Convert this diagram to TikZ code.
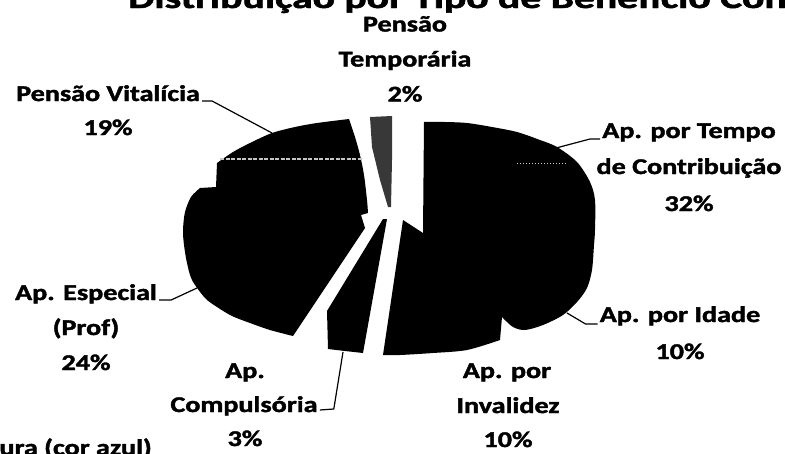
\documentclass[tikz,border=0pt]{standalone}
\usepackage{fontspec}
\setmainfont[BoldFeatures={FakeBold=1.6}]{Carlito}
\usetikzlibrary{calc}

\begin{document}
\begin{tikzpicture}[x=1pt, y=-1pt]
            \tikzstyle{slice} = [fill=black, draw=none]
            \tikzstyle{speckled} = [fill=black!78, draw=none]
            \tikzstyle{lbl} = [font=\fontsize{22.5}{35}\selectfont\bfseries, inner sep=0pt, anchor=base, xscale=1.25]
            \tikzstyle{heading} = [font=\fontsize{30}{36}\selectfont\bfseries, inner sep=0pt, anchor=base west, xscale=1.385]
            \tikzstyle{leader} = [draw=black, line width=1.2pt]

            \useasboundingbox (0, 0) rectangle (785, 453);
            \clip (0, 0) rectangle (785, 453);

            % pie, left part (Pensao Vitalicia + Ap. Especial)
            \fill[slice] (217, 163) -- plot[smooth] coordinates {(217, 163) (233, 152) (250, 143) (272, 133) (295, 127) (317, 123) (349, 119)}
                -- plot[smooth] coordinates {(349, 119) (355, 137) (360, 155) (364, 175) (367, 200) (368, 213)}
                -- (361, 215) -- (365, 228) -- (293, 336)
                -- plot[smooth] coordinates {(293, 336) (270, 330) (250, 323) (232, 316) (217, 307) (205, 298) (192, 280) (187, 263) (184, 245) (183, 230) (185, 212) (191, 197) (200, 188)}
                -- (216, 187) -- cycle;
            \draw[gray!45, line width=2.5pt, dash pattern=on 4pt off 1.5pt] (220, 159) -- (362, 159);

            % Pensao Temporaria
            \fill[speckled] (370, 117) -- (392, 116) -- (392, 160) -- (391, 207) -- (388, 207) -- (380, 180) -- (372, 147) -- cycle;

            % Ap. Compulsoria
            \fill[slice] (383, 219) -- (387, 219) -- (363, 353) -- (345, 351) -- (328, 349) -- (327, 311) -- cycle;

            % pie, right part (Tempo + Idade + Invalidez)
            \fill[slice] (424, 122) -- plot[smooth] coordinates {(424, 122) (445, 122) (467, 123) (492, 127) (517, 132) (540, 140) (557, 147) (577, 162) (590, 182) (595, 200) (595, 230) (594, 245) (592, 270) (587, 288) (577, 302) (563, 315) (543, 325) (525, 330) (513, 327) (502, 317)}
                -- (500, 340)
                -- plot[smooth] coordinates {(500, 340) (467, 350) (433, 353) (400, 355) (383, 355)}
                -- (403, 220) -- (423, 233) -- cycle;
            \draw[gray!40, line width=1pt, dotted] (517, 163) -- (567, 163);

            % title (cut by the page)
            \node[heading] (title) at (128, 8) {Distribuição por Tipo de Benefício Con};

            % labels
            \node[lbl] (tempA) at (405, 31.5) {Pensão};
            \node[lbl] (tempB) at (405, 66.5) {Temporária};
            \node[lbl] (tempC) at (405, 101.5) {2\%};

            \node[lbl] (vitA) at (108, 101) {Pensão Vitalícia};
            \node[lbl] (vitB) at (108, 135) {19\%};

            \node[lbl] (tcA) at (689, 138) {Ap. por Tempo};
            \node[lbl] (tcB) at (689, 174) {de Contribuição};
            \node[lbl] (tcC) at (689, 211) {32\%};

            \node[lbl] (idA) at (680, 322) {Ap. por Idade};
            \node[lbl] (idB) at (680, 359) {10\%};

            \node[lbl] (invA) at (507, 378) {Ap. por};
            \node[lbl] (invB) at (508, 413) {Invalidez};
            \node[lbl] (invC) at (508, 447) {10\%};

            \node[lbl] (espA) at (86, 300) {Ap. Especial};
            \node[lbl] (espB) at (86, 335) {(Prof)};
            \node[lbl] (espC) at (86, 370) {24\%};

            \node[lbl] (cmpA) at (245, 378) {Ap.};
            \node[lbl] (cmpB) at (244, 412) {Compulsória};
            \node[lbl] (cmpC) at (245, 446) {3\%};

            \node[lbl, anchor=base east] (azul) at (152, 455) {tura (cor azul)};

            % leader lines
            \coordinate (vitTip) at (272, 133);
            \coordinate (tcTip) at (556, 148);
            \coordinate (idTip) at (567, 313);
            \coordinate (espTip) at (197, 288);
            \coordinate (cmpTip) at (343, 352);
            \draw[leader] ($(vitA.base east) + (2, 0)$) -- ++(10, 0) -- (vitTip);
            \draw[leader] ($(tcA.base west) + (-2, 1)$) -- ++(-10, 0) -- (tcTip);
            \draw[leader] ($(idA.base west) + (-2, 2)$) -- ++(-12, 0) -- (idTip);
            \draw[leader] ($(espA.base east) + (2, 0)$) -- ++(12, 0) -- (espTip);
            \draw[leader] ($(cmpB.base east) + (2, -2)$) -- ++(14, -1) -- (cmpTip);
        \end{tikzpicture}
\end{document}
